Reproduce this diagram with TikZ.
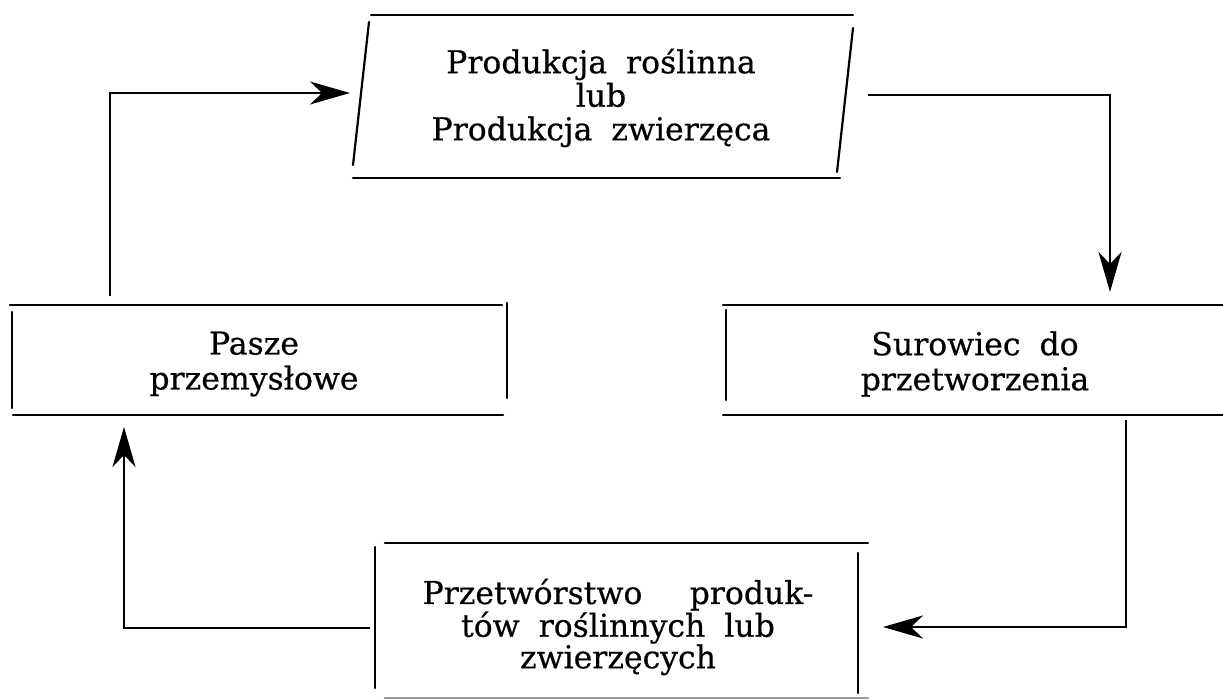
\documentclass[tikz,border=0pt]{standalone}
\usepackage{fontspec}
\setmainfont{DejaVu Serif}[WordSpace=1.9, FakeBold=0.5]
\usetikzlibrary{arrows.meta}
\begin{document}
\begin{tikzpicture}[x=1pt,y=-1pt,
  frame/.style={line width=2.2pt, line cap=round},
  conn/.style={line width=1.9pt},
  arr/.style={conn,-{Stealth[length=40pt,width=23pt,inset=12pt]}},
  lbl/.style={align=center, inner sep=0pt}]
\useasboundingbox (0,0) rectangle (1223,699);
% labels
\node[lbl, font=\fontsize{31.5}{33.5}\selectfont] (prod) at (601,98) {Produkcja roślinna\\lub\\Produkcja zwierzęca};
\node[lbl, font=\fontsize{31.5}{35}\selectfont] (pasze) at (254,364) {Pasze\\przemysłowe};
\node[lbl, font=\fontsize{31.5}{35}\selectfont] (sur) at (975,364) {Surowiec do\\przetworzenia};
\node[lbl, font=\fontsize{31.5}{31.5}\selectfont] (przet) at (618,627) {Przetwórstwo\hspace{1.5em}produk-\\tów roślinnych lub\\zwierzęcych};
% frames
\draw[frame] (371,15) -- (853,15);
\draw[frame] (353,178) -- (840,178);
\draw[frame] (369,22) -- (353,165);
\draw[frame] (853,28) -- (837,172);
\draw[frame] (10,305) -- (502,305);
\draw[frame] (13,415) -- (503,415);
\draw[frame] (12,312) -- (12,408);
\draw[frame] (507,303) -- (507,398);
\draw[frame] (723,305) -- (1223,305);
\draw[frame] (723,415) -- (1223,415);
\draw[frame] (726,310) -- (726,400);
\draw[frame] (385,543) -- (868,543);
\draw[frame] (375,547) -- (375,688);
\draw[frame] (858,553) -- (858,693);
\draw[frame, draw=black!40] (385,698) -- (868,698);
% connector ends
\coordinate (c1s) at (110,296);
\coordinate (c1e) at (350,93);
\coordinate (c2s) at (868,95);
\coordinate (c2e) at (1110,292);
\coordinate (c3s) at (1126,420);
\coordinate (c3e) at (883,627);
\coordinate (c4s) at (370,628);
\coordinate (c4e) at (124,427);
\draw[arr] (c1s) |- (c1e);
\draw[arr] (c2s) -| (c2e);
\draw[arr] (c3s) |- (c3e);
\draw[arr] (c4s) -| (c4e);
\end{tikzpicture}
\end{document}
